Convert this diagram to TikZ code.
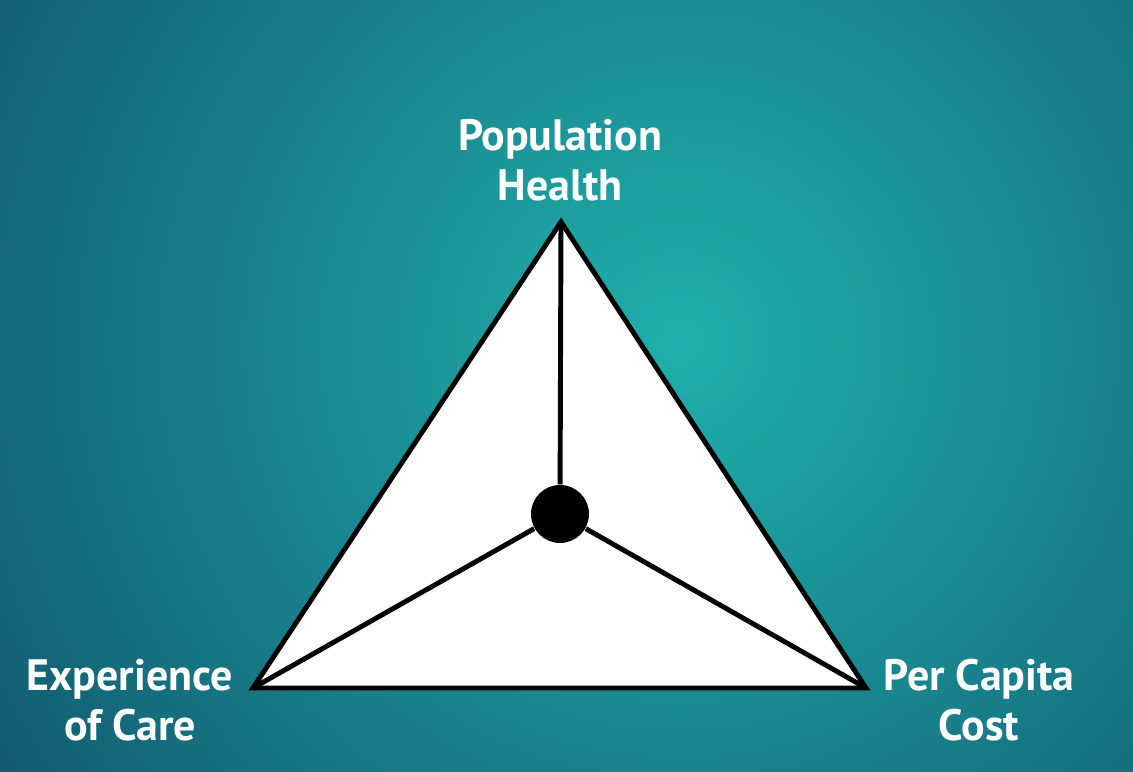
\documentclass[tikz,border=0pt]{standalone}
\usepackage{fontspec}
\setsansfont{PT Sans}
\usetikzlibrary{positioning}
\definecolor{tealdark}{RGB}{18,92,114}
\definecolor{teallight}{RGB}{32,176,172}

\begin{document}
\begin{tikzpicture}[x=1cm, y=1cm, lbl/.style={text=white, font=\sffamily\bfseries\fontsize{12.5}{14.2}\selectfont, align=center}, edge/.style={line width=1.4pt, line join=miter}]
% background
\clip (0,0) rectangle (11.33,7.72);
\fill[tealdark] (0,0) rectangle (11.33,7.72);
\shade[inner color=teallight, outer color=tealdark] (6.8,4.3) circle (8);
% triangle
\coordinate (top) at (5.61,5.50);
\coordinate (left) at (2.53,0.84);
\coordinate (right) at (8.66,0.84);
\draw[edge, fill=white] (top) -- (right) -- (left) -- cycle;
\node[circle, fill=black, minimum size=5.8mm, inner sep=0pt] (hub) at (5.60,2.58) {};
\foreach \v in {top,left,right} \draw[edge] (hub) -- (\v);
% labels
\node[lbl] (health) at (5.60,6.12) {Population\\Health};
\node[lbl] (care) at (1.30,0.72) {Experience\\of Care};
\node[lbl] (cost) at (9.79,0.72) {Per Capita\\Cost};
\end{tikzpicture}
\end{document}
